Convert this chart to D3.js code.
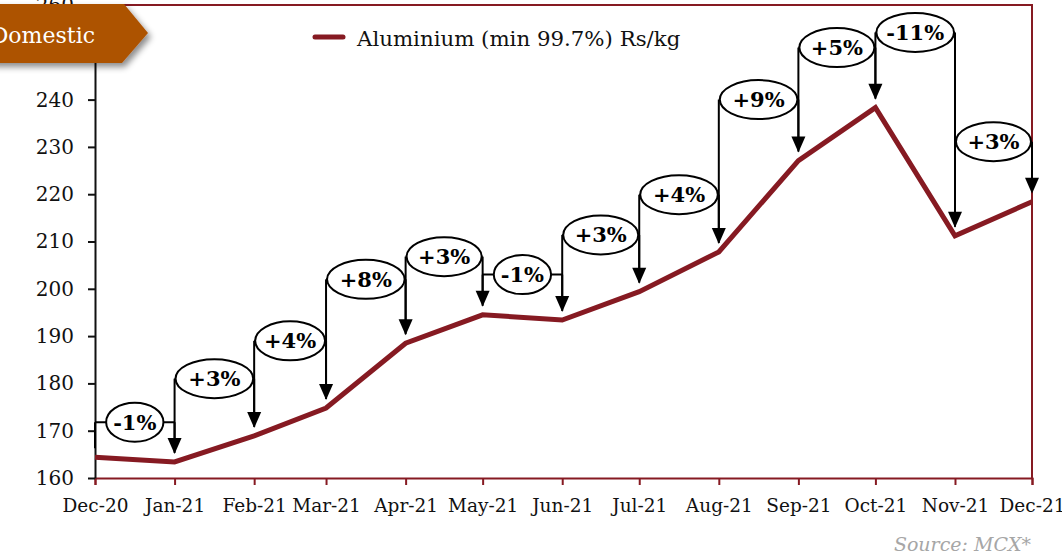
<!DOCTYPE html>
<html>
<head>
<meta charset="utf-8">
<script src="https://cdn.jsdelivr.net/npm/d3@7"></script>
<style>
  body { margin: 0; background: #fff; }
  svg { display: block; }
</style>
</head>
<body>
<div id="chart"></div>
<script>
const months = ["Dec-20","Jan-21","Feb-21","Mar-21","Apr-21","May-21","Jun-21","Jul-21","Aug-21","Sep-21","Oct-21","Nov-21","Dec-21"];
const prices = [164.4, 163.4, 168.9, 174.8, 188.5, 194.5, 193.4, 199.4, 207.8, 227.1, 238.3, 211.2, 218.4];
// month on month change, shown in the callouts
const changes = [-1, 3, 4, 8, 3, -1, 3, 4, 9, 5, -11, 3];
// level (Rs/kg) where each callout bracket sits
const calloutLevels = [171.8, 181.0, 189.0, 202.0, 206.8, 203.0, 211.4, 219.9, 240.0, 251.0, 254.2, 231.1];
const yTicks = [160, 170, 180, 190, 200, 210, 220, 230, 240, 250, 260];

const W = 1062, H = 560;
const MARGIN = { TOP: 5, BOTTOM: 82, LEFT: 95, RIGHT: 30 };
const FONT = "'DejaVu Serif', Georgia, serif";
const RED = '#861a22';

const parse = d3.timeParse('%b-%y');
const data = months.map((m, i) => ({ date: parse(m), label: m, price: prices[i] }));

const svg = d3.select('#chart').append('svg')
    .attr('width', W)
    .attr('height', H)
    .style('font-family', FONT);

const x = d3.scaleTime()
    .domain(d3.extent(data, d => d.date))
    .range([MARGIN.LEFT, W - MARGIN.RIGHT]);

const y = d3.scaleLinear()
    .domain([160, 260])
    .range([H - MARGIN.BOTTOM, MARGIN.TOP]);

// plot border (top + right)
svg.append('path')
    .attr('d', `M${x.range()[0]},${y(260)}H${x.range()[1]}V${y(160)}`)
    .attr('fill', 'none')
    .attr('stroke', RED)
    .attr('stroke-width', 2);

const xAxis = svg.append('g')
    .attr('transform', `translate(0, ${y(160)})`)
    .call(d3.axisBottom(x)
        .tickValues(data.map(d => d.date))
        .tickFormat((d, i) => months[i])
        .tickSize(7)
        .tickPadding(14));
xAxis.select('.domain').attr('stroke', RED).attr('stroke-width', 2);
xAxis.selectAll('.tick line').attr('stroke', RED).attr('stroke-width', 2);
xAxis.selectAll('text')
    .attr('font-family', FONT)
    .attr('font-size', 18.5)
    .attr('fill', '#111');

const yAxis = svg.append('g')
    .attr('transform', `translate(${MARGIN.LEFT}, 0)`)
    .call(d3.axisLeft(y)
        .tickValues(yTicks)
        .tickSize(7)
        .tickPadding(14)
        .tickSizeOuter(0));
yAxis.select('.domain').attr('stroke', '#111').attr('stroke-width', 2);
yAxis.selectAll('.tick line').attr('stroke', '#111').attr('stroke-width', 2);
yAxis.selectAll('text')
    .attr('font-family', FONT)
    .attr('font-size', 20)
    .attr('fill', '#111');

// price line
const line = d3.line()
    .x(d => x(d.date))
    .y(d => y(d.price));

svg.append('path')
    .datum(data)
    .attr('fill', 'none')
    .attr('stroke', RED)
    .attr('stroke-width', 5)
    .attr('stroke-linejoin', 'miter')
    .attr('d', line);

// callouts: bracket from month i to month i+1 with arrow down to i+1
const callouts = changes.map((c, i) => ({
    x0: x(data[i].date),
    x1: x(data[i + 1].date),
    yb: y(calloutLevels[i]),
    y0: y(data[i].price) - 9,
    y1: y(data[i + 1].price) - 8,
    text: (c > 0 ? '+' : '') + c + '%',
    small: Math.abs(c) < 2
}));

const cg = svg.append('g')
    .attr('stroke', '#000')
    .attr('stroke-width', 2);

callouts.forEach(d => {
    const g = cg.append('g');
    const aH = 16, aW = 7;
    g.append('line')
        .attr('x1', d.x0).attr('x2', d.x0)
        .attr('y1', d.yb).attr('y2', d.y0);
    g.append('line')
        .attr('x1', d.x0).attr('x2', d.x1)
        .attr('y1', d.yb).attr('y2', d.yb);
    g.append('line')
        .attr('x1', d.x1).attr('x2', d.x1)
        .attr('y1', d.yb).attr('y2', d.y1 - aH + 1);
    g.append('path')
        .attr('d', `M${d.x1},${d.y1}L${d.x1 - aW},${d.y1 - aH}L${d.x1 + aW},${d.y1 - aH}Z`)
        .attr('fill', '#000')
        .attr('stroke', 'none');

    const cx = (d.x0 + d.x1) / 2;
    const ell = g.append('ellipse')
        .attr('cx', cx)
        .attr('cy', d.yb)
        .attr('ry', 19.5)
        .attr('fill', '#fff');
    const t = g.append('text')
        .attr('x', cx)
        .attr('y', d.yb)
        .attr('dy', '0.36em')
        .attr('text-anchor', 'middle')
        .attr('font-size', 21)
        .attr('font-weight', 'bold')
        .attr('stroke', 'none')
        .attr('fill', '#000')
        .text(d.text);
    const tw = t.node().getComputedTextLength();
    ell.attr('rx', d.small ? tw / 2 + 7 : (d.x1 - d.x0) / 2 - 1);
});

// legend
svg.append('line')
    .attr('x1', 315).attr('x2', 343)
    .attr('y1', 37).attr('y2', 37)
    .attr('stroke', RED)
    .attr('stroke-width', 5)
    .attr('stroke-linecap', 'round');
svg.append('text')
    .attr('x', 357)
    .attr('y', 46)
    .attr('font-size', 21.3)
    .attr('fill', '#111')
    .text('Aluminium (min 99.7%) Rs/kg');

// "Domestic" banner
const defs = svg.append('defs');
defs.append('filter')
    .attr('id', 'shadow')
    .attr('x', '-20%').attr('y', '-20%')
    .attr('width', '150%').attr('height', '160%')
  .append('feDropShadow')
    .attr('dx', 3).attr('dy', 4)
    .attr('stdDeviation', 3)
    .attr('flood-color', '#000')
    .attr('flood-opacity', 0.45);

svg.append('path')
    .attr('d', 'M-10,4H124L148,33L122,63H-10Z')
    .attr('fill', '#ad5200')
    .attr('filter', 'url(#shadow)');
svg.append('text')
    .attr('x', 95)
    .attr('y', 43)
    .attr('text-anchor', 'end')
    .attr('font-size', 22)
    .attr('fill', '#fff')
    .text('Domestic');

// source note
svg.append('text')
    .attr('x', 1031)
    .attr('y', 551)
    .attr('text-anchor', 'end')
    .attr('font-size', 19)
    .attr('font-style', 'italic')
    .attr('fill', '#a6a6a6')
    .text('Source: MCX*');
</script>
</body>
</html>
